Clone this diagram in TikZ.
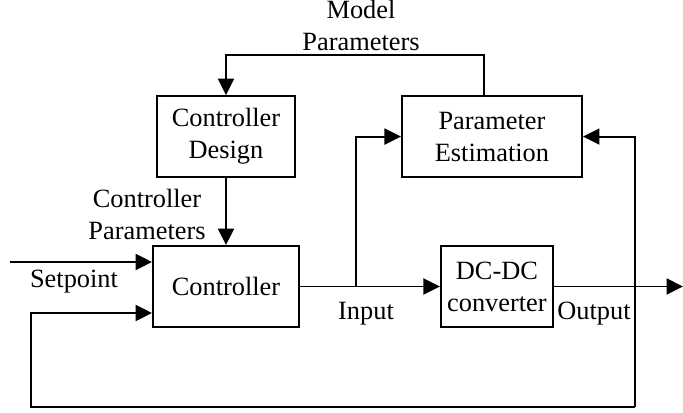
\documentclass[tikz,border=0pt]{standalone}
\usepackage{fontspec}
\setmainfont{Liberation Serif}
\usetikzlibrary{positioning, arrows.meta, calc}
\tikzstyle{blk}=[%
      rectangle, draw=black, line width=1.1pt, fill=none,
      align=center, minimum height=1.62cm, inner sep=2pt
]
\tikzstyle{lbl}=[%
      align=center, inner sep=0pt
]

\begin{document}
\begin{tikzpicture}[auto,
    line width=1.1pt,
    -{Triangle[length=3.3mm,width=3.2mm]},
    font=\fontsize{15}{18.2}\selectfont
  ]
    \useasboundingbox (0,0) rectangle (13.66,8.26);

    \node[blk, minimum width=2.92cm]  (ctrl)                            at (4.52,2.53) {Controller};
    \node[blk, minimum width=2.76cm]  (design) [above = 1.34cm of ctrl]               {Controller\\Design};
    \node[blk, minimum width=2.24cm]  (plant)  [right = 2.8cm of ctrl]                {DC-DC\\converter};
    \node[blk, minimum width=3.6cm]   (estim)  [right = 2.1cm of design]              {Parameter\\Estimation};

    \coordinate (sp)  at (0.2,3.02);
    \coordinate (out) at (13.66,2.53);
    \coordinate[right = 1.12cm of ctrl.east] (tap);
    \coordinate (br)  at (12.7,0.12);
    \coordinate (bl)  at (0.62,0.12);

    % labels
    \node[lbl]               (mp)   at (7.22,7.76) {Model\\Parameters};
    \node[lbl]               (cp)   at (2.94,3.98) {Controller\\Parameters};
    \node[lbl, anchor=base]  (setp) at (1.48,2.5)  {Setpoint};
    \node[lbl, anchor=base]  (inp)  at (7.32,1.86) {Input};
    \node[lbl, anchor=base]  (outp) at (11.88,1.86) {Output};

    \draw (sp) -- (sp -| ctrl.west);
    \draw (design) -- (ctrl);
    \draw (ctrl) -- (plant);
    \draw (plant) -- (out);
    \draw (tap) |- (estim.west);
    \draw ([xshift=-0.16cm]estim.north) -- ++(0,0.8) -| (design.north);
    \draw (br) |- (estim.east);
    \draw (br) -- (bl) |- ([yshift=-0.53cm]ctrl.west);
\end{tikzpicture}
\end{document}
